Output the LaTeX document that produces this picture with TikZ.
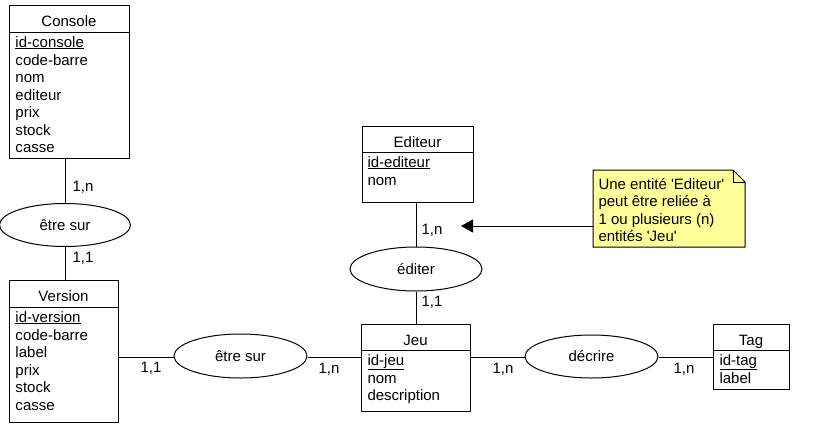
\documentclass[tikz,border=0pt]{standalone}
\usepackage{fontspec}
\setmainfont{Liberation Sans}[Ligatures=TeXOff]
\usetikzlibrary{shapes.geometric,arrows.meta}
\definecolor{notey}{RGB}{255,255,153}
\begin{document}
\begin{tikzpicture}[x=1pt,y=-1pt,line width=1pt,
  every node/.style={font=\fontsize{15}{17.5}\selectfont},
  entity/.style={draw,rectangle,anchor=north west,inner sep=0},
  hdr/.style={anchor=base,inner sep=0},
  attr/.style={anchor=base west,inner sep=0},
  rel/.style={draw,ellipse,inner sep=0,minimum width=132,minimum height=44},
  card/.style={anchor=base west,inner sep=0}]
\useasboundingbox (0,0) rectangle (813,431);
% Console
\node[entity,minimum width=120,minimum height=153] (console) at (9,5) {};
\draw (9,32) -- (129,32);
\node[hdr] (consoleh) at (69,26) {Console};
\node[attr] (c1) at (15,47) {\underline{id-console}};
\node[attr] (c2) at (15,65) {code-barre};
\node[attr] (c3) at (15,82) {nom};
\node[attr] (c4) at (15,100) {editeur};
\node[attr] (c5) at (15,117) {prix};
\node[attr] (c6) at (15,135) {stock};
\node[attr] (c7) at (15,152) {casse};
% Version
\node[entity,minimum width=109,minimum height=142] (version) at (9,280) {};
\draw (9,307) -- (118,307);
\node[hdr] (versionh) at (63.5,301) {Version};
\node[attr] (v1) at (15,322) {\underline{id-version}};
\node[attr] (v2) at (15,340) {code-barre};
\node[attr] (v3) at (15,357) {label};
\node[attr] (v4) at (15,375) {prix};
\node[attr] (v5) at (15,392) {stock};
\node[attr] (v6) at (15,410) {casse};
% Editeur
\node[entity,minimum width=111,minimum height=76] (editeur) at (362,126) {};
\draw (362,152) -- (473,152);
\node[hdr] (editeurh) at (417.5,147) {Editeur};
\node[attr] (ed1) at (367,167) {\underline{id-editeur}};
\node[attr] (ed2) at (367,185) {nom};
% Jeu
\node[entity,minimum width=109,minimum height=87] (jeu) at (361,324) {};
\draw (361,350) -- (470,350);
\node[hdr] (jeuh) at (415.5,345) {Jeu};
\node[attr] (j1) at (367,365) {\underline{id-jeu}};
\node[attr] (j2) at (367,383) {nom};
\node[attr] (j3) at (367,400) {description};
% Tag
\node[entity,minimum width=76,minimum height=65] (tag) at (713,324) {};
\draw (713,350) -- (789,350);
\node[hdr] (tagh) at (751,345) {Tag};
\node[attr] (t1) at (719,365) {\underline{id-tag}};
\node[attr] (t2) at (719,383) {label};
% Relations
\node[rel,minimum width=131,minimum height=43] (etre1) at (65,225) {être sur};
\node[rel,minimum width=133] (etre2) at (240.5,356) {être sur};
\node[rel] (editer) at (416,269) {éditer};
\node[rel,minimum width=133,minimum height=43] (decrire) at (591.5,356.5) {décrire};
% Connectors
\draw (etre1.north) -- (etre1.north |- console.south);
\draw (etre1.south) -- (etre1.south |- version.north);
\draw (version.east |- 0,357) coordinate (vr) -- (etre2.west |- vr);
\draw (etre2.east |- vr) -- (jeu.west |- vr);
\draw (jeu.east |- vr) -- (decrire.west |- vr);
\draw (decrire.east |- vr) -- (tag.west |- vr);
\draw (editer.north) -- (editer.north |- editeur.south);
\draw (editer.south) -- (editer.south |- jeu.north);
% Cardinalities
\node[card] (k1) at (72,191) {1,n};
\node[card] (k2) at (72,262) {1,1};
\node[card] (k3) at (140,372) {1,1};
\node[card] (k4) at (318,373) {1,n};
\node[card] (k5) at (492,373) {1,n};
\node[card] (k6) at (673,373) {1,n};
\node[card] (k7) at (421,234) {1,n};
\node[card] (k8) at (421,306) {1,1};
% Note
\node[inner sep=0,minimum width=152,minimum height=77,anchor=north west] (note) at (593,170) {};
\fill[notey] (593,170) -- (733,170) -- (745,182) -- (745,247) -- (593,247) -- cycle;
\draw (593,170) -- (733,170) -- (745,182) -- (745,247) -- (593,247) -- cycle;
\draw (733,170) -- (733,182) -- (745,182);
\node[attr] (n1) at (598,189) {Une entité 'Editeur'};
\node[attr] (n2) at (598,206.5) {peut être reliée à};
\node[attr] (n3) at (598,224) {1 ou plusieurs (n)};
\node[attr] (n4) at (598,241.5) {entités 'Jeu'};
\coordinate (tip) at (461,226);
\draw[-{Triangle[length=12,width=13]}] (note.west |- tip) -- (tip);
\end{tikzpicture}
\end{document}
